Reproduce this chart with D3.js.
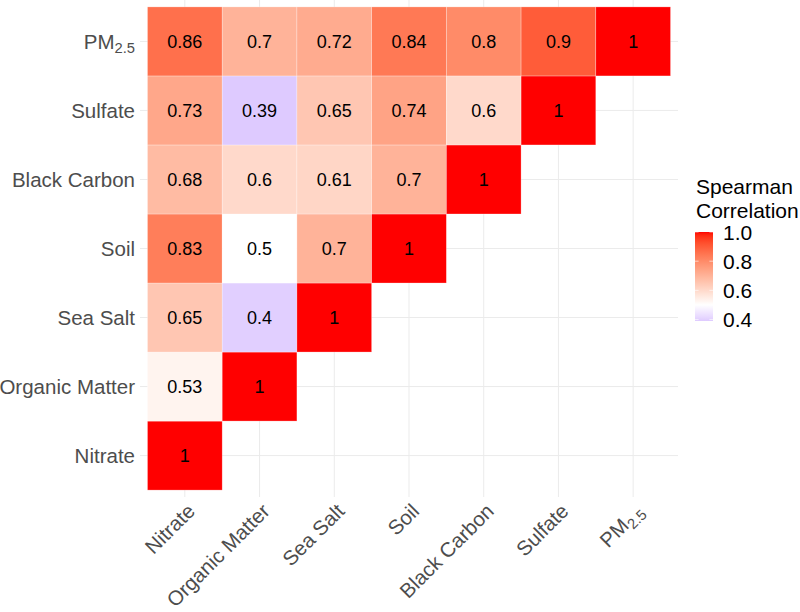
<!DOCTYPE html>
<html>
<head>
<meta charset="utf-8">
<script src="https://cdn.jsdelivr.net/npm/d3@7"></script>
<style>
  html, body { margin: 0; padding: 0; background: #fff; }
  svg { display: block; font-family: "Liberation Sans", Arial, Helvetica, sans-serif; }
</style>
</head>
<body>
<svg id="chart" width="800" height="612"></svg>
<script>
// ---- data ----
const categories = ["Nitrate", "Organic Matter", "Sea Salt", "Soil", "Black Carbon", "Sulfate", "PM2.5"];
// lower-triangle rows: row variable, values for columns Nitrate..(row itself)
const rowNitrate       = [1];
const rowOrganicMatter = [0.53, 1];
const rowSeaSalt       = [0.65, 0.4, 1];
const rowSoil          = [0.83, 0.5, 0.7, 1];
const rowBlackCarbon   = [0.68, 0.6, 0.61, 0.7, 1];
const rowSulfate       = [0.73, 0.39, 0.65, 0.74, 0.6, 1];
const rowPM25          = [0.86, 0.7, 0.72, 0.84, 0.8, 0.9, 1];
const rows = [rowNitrate, rowOrganicMatter, rowSeaSalt, rowSoil, rowBlackCarbon, rowSulfate, rowPM25];
const legendTicks = [0.4, 0.6, 0.8, 1.0];
const legendTitle = ["Spearman", "Correlation"];
const colorLimits = [0.39, 1];
const colorMid = 0.5;

const cells = [];
rows.forEach((vals, ri) => {
  vals.forEach((v, ci) => cells.push({ row: categories[ri], col: categories[ci], value: v }));
});

// ---- scales ----
const svg = d3.select("#chart");
const panel = { left: 140, right: 678, top: 0, bottom: 497 };

const x = d3.scaleBand().domain(categories)
  .range([panel.left, panel.right]).paddingInner(0).paddingOuter(0.1);
const y = d3.scaleBand().domain(categories.slice().reverse())
  .range([panel.top, panel.bottom]).paddingInner(0).paddingOuter(0.1);

// gradient2 (blue - white - red) in Lab, midpoint 0.5
const maxDist = Math.max(colorLimits[1] - colorMid, colorMid - colorLimits[0]);
const toBlue = d3.interpolateLab("#ffffff", "#0000ff");
const toRed = d3.interpolateLab("#ffffff", "#ff0000");
function fill(v) {
  const r = (v - colorMid) / maxDist;
  return r >= 0 ? toRed(r) : toBlue(-r);
}

// ---- grid ----
const grid = svg.append("g");
categories.forEach(c => {
  grid.append("line")
    .attr("x1", x(c) + x.bandwidth() / 2).attr("x2", x(c) + x.bandwidth() / 2)
    .attr("y1", panel.top).attr("y2", panel.bottom)
    .attr("stroke", "#ebebeb").attr("stroke-width", 1);
  grid.append("line")
    .attr("y1", y(c) + y.bandwidth() / 2).attr("y2", y(c) + y.bandwidth() / 2)
    .attr("x1", panel.left).attr("x2", panel.right)
    .attr("stroke", "#ebebeb").attr("stroke-width", 1);
});

// ---- tiles ----
svg.append("g").selectAll("rect").data(cells).join("rect")
  .attr("x", d => x(d.col)).attr("y", d => y(d.row))
  .attr("width", x.bandwidth()).attr("height", y.bandwidth())
  .attr("fill", d => fill(d.value))
  .attr("stroke", "rgba(255,255,255,0.45)").attr("stroke-width", 0.6);

svg.append("g").selectAll("text").data(cells).join("text")
  .attr("x", d => x(d.col) + x.bandwidth() / 2)
  .attr("y", d => y(d.row) + y.bandwidth() / 2)
  .attr("text-anchor", "middle").attr("dy", "0.36em")
  .attr("font-size", 18).attr("fill", "#000")
  .text(d => String(d.value));

// ---- axis labels ----
function labelText(sel, c) {
  if (c === "PM2.5") {
    sel.append("tspan").text("PM");
    sel.append("tspan").attr("font-size", "0.72em").attr("dy", "0.3em").text("2.5");
  } else {
    sel.text(c);
  }
}
const axisFont = 20.5;
const ylab = svg.append("g");
categories.forEach(c => {
  const t = ylab.append("text")
    .attr("x", 135).attr("y", y(c) + y.bandwidth() / 2)
    .attr("dy", "0.36em").attr("text-anchor", "end")
    .attr("font-size", axisFont).attr("fill", "#4d4d4d");
  labelText(t, c);
});
const xlab = svg.append("g");
categories.forEach(c => {
  const g = xlab.append("g")
    .attr("transform", `translate(${x(c) + x.bandwidth() / 2 + 1},${panel.bottom + 5}) rotate(-45)`);
  const t = g.append("text").attr("text-anchor", "end").attr("dy", "0.72em")
    .attr("font-size", axisFont).attr("fill", "#4d4d4d");
  labelText(t, c);
});

// ---- legend ----
const leg = svg.append("g");
legendTitle.forEach((s, i) => {
  leg.append("text").attr("x", 696).attr("y", 194 + i * 23.5)
    .attr("font-size", 21).attr("fill", "#000").text(s);
});
const ly = d3.scaleLinear().domain(colorLimits).range([321, 232]);
const defs = svg.append("defs");
const grad = defs.append("linearGradient").attr("id", "lg")
  .attr("x1", 0).attr("y1", 1).attr("x2", 0).attr("y2", 0);
d3.range(0, 1.0001, 0.02).forEach(f => {
  const v = colorLimits[0] + f * (colorLimits[1] - colorLimits[0]);
  grad.append("stop").attr("offset", f).attr("stop-color", fill(v));
});
leg.append("rect").attr("x", 695).attr("y", ly(colorLimits[1]))
  .attr("width", 18).attr("height", ly(colorLimits[0]) - ly(colorLimits[1]))
  .attr("fill", "url(#lg)");
legendTicks.forEach(v => {
  leg.append("line").attr("x1", 695).attr("x2", 698.6).attr("y1", ly(v)).attr("y2", ly(v))
    .attr("stroke", "#fff").attr("stroke-width", 0.6);
  leg.append("line").attr("x1", 709.4).attr("x2", 713).attr("y1", ly(v)).attr("y2", ly(v))
    .attr("stroke", "#fff").attr("stroke-width", 0.6);
  leg.append("text").attr("x", 723).attr("y", ly(v)).attr("dy", "0.36em")
    .attr("font-size", 21).attr("fill", "#000").text(v.toFixed(1));
});
</script>
</body>
</html>
